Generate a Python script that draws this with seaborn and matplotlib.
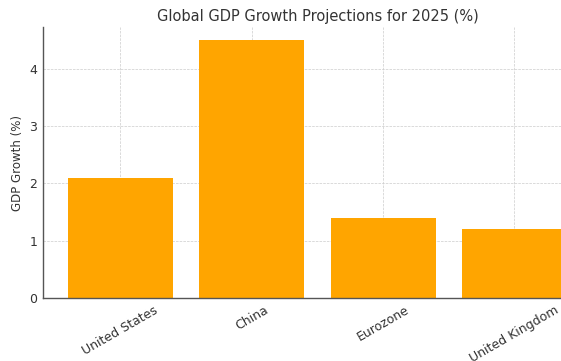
import pandas as pd
import seaborn as sns
import matplotlib.pyplot as plt

regions = ["United States", "China", "Eurozone", "United Kingdom"]
growth = [2.1, 4.5, 1.4, 1.2]

df = pd.DataFrame({"Region": regions, "Growth": growth})

sns.set_style("white")
plt.rcParams["font.family"] = ["DejaVu Sans"]
plt.rcParams["text.color"] = "#333333"
plt.rcParams["axes.labelcolor"] = "#333333"

fig = plt.figure(figsize=(5.61, 3.61), dpi=100)
ax = fig.add_axes([0.0766, 0.1745, 0.9786, 0.7507])
sns.barplot(data=df, x="Region", y="Growth", color="orange", saturation=1,
            width=0.8, linewidth=0, ax=ax)
ax.set_xlim(-0.59, 3.59)
ax.set_ylim(0, 4.725)
ax.grid(True, linestyle="--", linewidth=0.5, color="#cccccc")
ax.set_axisbelow(True)
for s in ["top", "right"]:
    ax.spines[s].set_visible(False)
for s in ["left", "bottom"]:
    ax.spines[s].set_color("#555555")
    ax.spines[s].set_linewidth(1.0)
ax.tick_params(axis="both", direction="in", length=3, width=0.8, labelsize=9,
               colors="#333333", pad=4)
ax.tick_params(axis="x", rotation=30)
ax.set_xlabel("")
ax.set_ylabel("GDP Growth (%)", fontsize=8.5)
ax.set_title("Global GDP Growth Projections for 2025 (%)", fontsize=10.5, pad=4)
fig.savefig("out.png", dpi=100)
